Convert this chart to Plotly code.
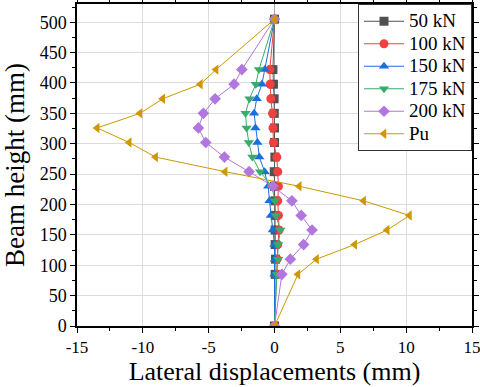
import plotly.graph_objects as go

heights = [0, 85, 110, 134, 158, 182, 206, 230, 254, 278, 302, 326, 350, 374, 398, 422, 505]

d50 = [0, 0.05, 0.08, 0.05, 0.05, 0.05, 0.03, 0.0, -0.02, 0.03, 0.0, 0.0, -0.02, -0.03, -0.08, -0.12, 0]
d100 = [0, 0.15, 0.2, 0.25, 0.35, 0.3, 0.25, 0.3, 0.25, 0.18, -0.08, -0.12, -0.15, -0.28, -0.33, -0.36, 0]
d150 = [0, 0.0, 0.03, 0.0, -0.13, -0.28, -0.38, -0.48, -0.75, -1.15, -1.3, -1.45, -1.55, -1.35, -0.96, -0.74, 0]
d175 = [0, 0.2, 0.28, 0.28, 0.45, 0.1, 0.03, -0.2, -1.1, -1.68, -1.95, -2.12, -2.2, -1.9, -1.42, -1.18, 0]
d200 = [0, 0.56, 1.2, 2.21, 2.85, 2.03, 1.32, -0.12, -1.93, -3.8, -5.22, -5.78, -5.4, -4.51, -3.07, -2.48, 0]
dPu = [0, 1.78, 3.19, 6.09, 8.56, 10.25, 6.77, 1.88, -3.75, -9.03, -11.03, -13.47, -10.22, -8.49, -5.63, -4.44, 0]

names = ["50 kN", "100 kN", "150 kN", "175 kN", "200 kN", "Pu"]
series = [d50, d100, d150, d175, d200, dPu]
colors = ["#515151", "#F14040", "#1A6FDF", "#37AD6B", "#B177DE", "#CC9900"]
symbols = ["square", "circle", "triangle-up", "triangle-down", "diamond", "triangle-left"]

x_ticks = [-15, -10, -5, 0, 5, 10, 15]
y_ticks = [0, 50, 100, 150, 200, 250, 300, 350, 400, 450, 500]

fig = go.Figure()
for name, vals, col, sym in zip(names, series, colors, symbols):
    fig.add_trace(go.Scatter(
        x=vals, y=heights, mode="lines+markers",
        name='<span style="font-size:19px">' + name + '</span>',
        line=dict(color=col, width=1),
        marker=dict(color=col, symbol=sym, size=9),
    ))

font_family = "Liberation Serif"
fig.update_layout(
    width=480, height=387,
    margin=dict(l=77, r=8, t=4, b=61),
    paper_bgcolor="white", plot_bgcolor="white",
    font=dict(family=font_family, color="black", size=18),
    showlegend=True,
    legend=dict(
        x=1, y=1.0, xanchor="right", yanchor="top",
        bgcolor="white", bordercolor="#333333", borderwidth=1,
        font=dict(family=font_family, size=15, color="black"),
        tracegroupgap=0, itemwidth=40,
    ),
    xaxis=dict(
        range=[-15, 15], tickvals=x_ticks, ticktext=[str(v) for v in x_ticks],
        showgrid=True, gridcolor="#dcdcdc", gridwidth=1,
        zeroline=True, zerolinecolor="#a8a8a8", zerolinewidth=1,
        showline=True, linecolor="black", linewidth=1.5, mirror="ticks",
        ticks="outside", ticklen=5, tickwidth=1.2, tickcolor="black",
        minor=dict(ticks="outside", ticklen=3, tickwidth=1, tickcolor="black", dtick=2.5, showgrid=False),
        title=dict(text="Lateral displacements (mm)", font=dict(family=font_family, size=26), standoff=4),
        tickfont=dict(family=font_family, size=17),
        automargin=False, ticklabeloverflow="allow",
    ),
    yaxis=dict(
        range=[0, 530], tickvals=y_ticks, ticktext=[str(v) for v in y_ticks],
        showgrid=True, gridcolor="#dcdcdc", gridwidth=1,
        zeroline=False,
        showline=True, linecolor="black", linewidth=1.5, mirror="ticks",
        ticks="outside", ticklen=5, tickwidth=1.2, tickcolor="black",
        minor=dict(ticks="outside", ticklen=3, tickwidth=1, tickcolor="black", dtick=25, showgrid=False),
        title=dict(text="Beam height (mm)", font=dict(family=font_family, size=27), standoff=8),
        tickfont=dict(family=font_family, size=18),
        automargin=False, ticklabeloverflow="allow",
    ),
)

fig.write_html("out.html")
